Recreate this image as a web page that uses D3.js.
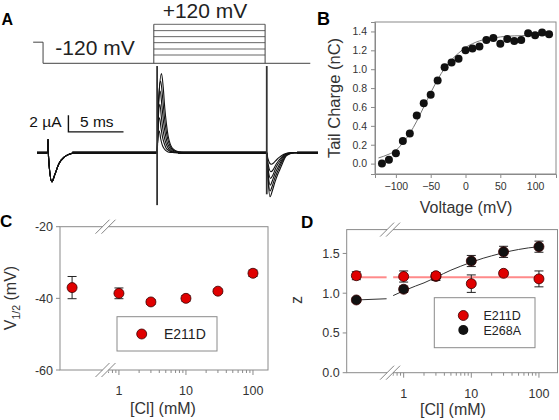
<!DOCTYPE html>
<html><head><meta charset="utf-8">
<script src="https://cdn.jsdelivr.net/npm/d3@7"></script>
<style>body{margin:0;background:#fff}svg{display:block;font-family:"Liberation Sans",Arial,sans-serif}</style>
</head><body><svg id="c" width="559" height="420"></svg>
<script>
// ================= DATA =================
// Panel A: voltage protocol (schematic)
const protoT = [-0.35, 0.55, 10.6, 20.7, 24.8];      // start, step to -120, test on, test off, end (ms)
const protoHoldV = 10, protoPreV = -120;
const protoTestV = [120, 81, 44, 7, -32, -69];
// Panel A: current traces (ms, µA)
const traceEndT = 25.5, onsetT = 10.9, offsetT = 20.85;
const prePulse = [[0,0],[0.95,0],[1.0,1.6],[1.05,-0.6],[1.35,-3.5],[1.6,-2.7],[2.0,-1.3],[2.5,-0.5],[3.0,-0.15],[3.6,0]];
const onTraces = [
  [[0,0],[0.15,6.5],[0.4,9.5],[0.55,7.9],[0.7,5.3],[0.85,3.4],[1.0,2.0],[1.2,1.0],[1.45,0.45],[1.9,0.12],[2.5,0]],
  [[0,0],[0.12,6.0],[0.32,8.6],[0.5,6.6],[0.65,4.4],[0.8,2.8],[0.95,1.7],[1.15,0.85],[1.4,0.35],[1.8,0.1],[2.4,0]],
  [[0,0],[0.1,5.0],[0.28,7.4],[0.45,5.4],[0.6,3.5],[0.75,2.2],[0.9,1.3],[1.1,0.65],[1.35,0.25],[1.7,0.05],[2.3,0]],
  [[0,0],[0.1,4.0],[0.25,5.8],[0.4,4.1],[0.55,2.6],[0.7,1.6],[0.85,0.95],[1.05,0.45],[1.3,0.15],[1.7,0.03],[2.2,0]],
  [[0,0],[0.08,3.0],[0.22,4.2],[0.36,2.9],[0.5,1.8],[0.65,1.1],[0.8,0.6],[1.0,0.3],[1.25,0.1],[1.6,0.02],[2.1,0]],
  [[0,0],[0.07,1.8],[0.2,2.6],[0.32,1.7],[0.45,1.0],[0.6,0.55],[0.75,0.3],[0.95,0.12],[1.2,0.03],[1.5,0.01],[2.0,0]]
];
const offTraces = [
  [[0,0],[0.1,-2.8],[0.3,-5.3],[0.5,-4.6],[0.75,-3.5],[1.0,-2.6],[1.2,-2.0],[1.45,-1.2],[1.7,-0.5],[2.0,-0.2],[2.5,0]],
  [[0,0],[0.1,-2.5],[0.3,-4.6],[0.5,-4.0],[0.75,-3.0],[1.0,-2.2],[1.2,-1.6],[1.45,-0.95],[1.7,-0.4],[2.0,-0.15],[2.5,0]],
  [[0,0],[0.1,-2.1],[0.32,-3.9],[0.5,-3.4],[0.75,-2.5],[1.0,-1.8],[1.2,-1.3],[1.45,-0.75],[1.7,-0.3],[2.0,-0.1],[2.5,0]],
  [[0,0],[0.1,-1.7],[0.35,-3.1],[0.55,-2.7],[0.8,-1.9],[1.0,-1.4],[1.2,-1.0],[1.45,-0.55],[1.7,-0.2],[2.0,-0.08],[2.5,0]],
  [[0,0],[0.1,-1.2],[0.38,-2.3],[0.6,-2.0],[0.85,-1.4],[1.05,-1.0],[1.25,-0.7],[1.5,-0.35],[1.75,-0.15],[2.0,-0.05],[2.5,0]],
  [[0,0],[0.1,-0.7],[0.4,-1.4],[0.65,-1.2],[0.9,-0.85],[1.1,-0.6],[1.3,-0.4],[1.55,-0.2],[1.8,-0.08],[2.1,-0.02],[2.5,0]]
];
const spikes = [[10.9, 10.4, -6.3], [20.85, 10.4, -5.0]];   // time, top, bottom
const baseSegs = [[0,0.95],[3.2,10.85],[12.8,20.8],[23.6,25.5]];
const scaleBarT = 2.85, scaleBarDT = 5, scaleBarI = 2.5, scaleBarDI = 2;

// Panel B
const bVolt = [-120,-110,-100,-90,-80,-70,-60,-50,-40,-30,-20,-10,0,10,20,30,40,50,60,70,80,90,100,110,120];
const bCharge = [0.00,0.04,0.11,0.24,0.32,0.51,0.64,0.73,0.88,1.02,1.07,1.11,1.20,1.22,1.24,1.31,1.33,1.27,1.32,1.30,1.31,1.38,1.36,1.39,1.37];
const bFitV = [-125,-110,-100,-90,-80,-70,-60,-50,-40,-30,-20,-10,0,10,20,40,60,80,100,120];
const bFitQ = [0.06,0.10,0.14,0.22,0.32,0.45,0.60,0.75,0.89,1.01,1.10,1.17,1.23,1.27,1.30,1.33,1.35,1.355,1.36,1.36];
const bXTicks = [-100,-50,0,50,100];
const bYTicks = [0,0.2,0.4,0.6,0.8,1.0,1.2,1.4];

// Panels C & D
const clConc = [0.2, 1, 3, 10, 30, 100];
const cV12 = [-37.0, -38.6, -41.0, -40.0, -38.0, -33.0];
const cV12Err = [3.1, 1.5, 0.7, 0.8, 0.6, 0.9];
const dZ211 = [1.22, 1.21, 1.22, 1.12, 1.25, 1.18];
const dZ211Err = [0.05, 0.07, 0.03, 0.11, 0.03, 0.10];
const dZ268 = [0.915, 1.05, 1.21, 1.405, 1.52, 1.585];
const dZ268Err = [0.03, 0.04, 0.05, 0.07, 0.07, 0.07];
const d211LineZ = 1.2;
const d211LineC = [[0.2, 0.56], [0.70, 115]];
const d268FitLeftC = [0.2, 0.56], d268FitLeftZ = [0.915, 0.93];
const d268FitC = [0.70, 1, 1.5, 2, 3, 5, 7, 10, 15, 20, 30, 50, 70, 100];
const d268FitZ = [0.97, 1.03, 1.09, 1.13, 1.20, 1.29, 1.34, 1.39, 1.44, 1.47, 1.51, 1.55, 1.57, 1.585];
const clTicks = [1, 10, 100];
const clMinorTicks = [0.7,0.8,0.9,2,3,4,5,6,7,8,9,20,30,40,50,60,70,80,90];
const breakConc = 0.63;
const cYTicks = [-20, -40, -60];
const dYTicks = [0, 0.5, 1.0, 1.5];

// ================= DRAW =================
const svg = d3.select("#c");
const FR = "#8a8a8a", TXT = "#333";

// ---------- Panel A ----------
const xT = d3.scaleLinear().domain([0, 25.5]).range([37, 318]);
const yI = d3.scaleLinear().domain([-6.5, 10.5]).range([206.8, 65.2]);
const yP = d3.scaleLinear().domain([-120, 120]).range([63.3, 24.3]);
const gA = svg.append("g");
const pl = d3.line().x(d => xT(d[0])).y(d => yP(d[1]));
gA.append("path").attr("fill","none").attr("stroke","#444").attr("stroke-width",1)
  .attr("d", pl([[protoT[0],protoHoldV],[protoT[1],protoHoldV],[protoT[1],protoPreV],[protoT[4],protoPreV]]));
gA.selectAll("line.pt").data(protoTestV).join("line")
  .attr("x1", xT(protoT[2])).attr("x2", xT(protoT[3]))
  .attr("y1", d => yP(d)).attr("y2", d => yP(d)).attr("stroke","#555").attr("stroke-width",0.9);
[protoT[2], protoT[3]].forEach(t => gA.append("line").attr("x1",xT(t)).attr("x2",xT(t))
  .attr("y1",yP(protoPreV)).attr("y2",yP(d3.max(protoTestV))).attr("stroke","#444").attr("stroke-width",1));
gA.append("text").attr("x",205).attr("y",18).attr("text-anchor","middle").attr("font-size",21).attr("fill","#222").text("+120 mV");
gA.append("text").attr("x",95).attr("y",55).attr("text-anchor","middle").attr("font-size",21).attr("fill","#222").text("-120 mV");
gA.append("text").attr("x",1.5).attr("y",25).attr("font-size",16).attr("font-weight","bold").text("A");

// traces
const tl = d3.line().x(d => xT(d[0])).y(d => yI(d[1])).curve(d3.curveMonotoneX);
onTraces.forEach((on, k) => {
  const pts = prePulse.concat([[onsetT - 0.05, 0]], on.map(p => [onsetT + p[0], p[1]]),
    [[offsetT - 0.05, 0]], offTraces[k].map(p => [offsetT + p[0], p[1]]), [[traceEndT, 0]]);
  gA.append("path").attr("fill","none").attr("stroke","#111").attr("stroke-width",1.1).attr("d", tl(pts));
});
baseSegs.forEach(s => gA.append("line").attr("x1",xT(s[0])).attr("x2",xT(s[1]))
  .attr("y1",yI(0)).attr("y2",yI(0)).attr("stroke","#111").attr("stroke-width",2.6));
spikes.forEach(s => gA.append("line").attr("x1",xT(s[0])).attr("x2",xT(s[0]))
  .attr("y1",yI(s[1])).attr("y2",yI(s[2])).attr("stroke","#333").attr("stroke-width",1.8));
// scale bar
gA.append("path").attr("fill","none").attr("stroke","#111").attr("stroke-width",1.4)
  .attr("d", `M${xT(scaleBarT)},${yI(scaleBarI+scaleBarDI)}V${yI(scaleBarI)}H${xT(scaleBarT+scaleBarDT)}`);
gA.append("text").attr("x",61.5).attr("y",126.5).attr("text-anchor","end").attr("font-size",15.5).attr("fill","#111").text("2 µA");
gA.append("text").attr("x",80).attr("y",126.5).attr("font-size",15.5).attr("fill","#111").text("5 ms");

// ---------- Panel B ----------
const xB = d3.scaleLinear().domain([-130, 130]).range([375, 556]);
const yB = d3.scaleLinear().domain([-0.11, 1.5]).range([174, 22]);
const gB = svg.append("g");
gB.append("rect").attr("x",375).attr("y",22).attr("width",181).attr("height",152).attr("fill","none").attr("stroke",FR);
gB.append("g").attr("transform","translate(0,174)")
  .call(d3.axisBottom(xB).tickValues(bXTicks).tickSize(4).tickPadding(5))
  .call(g => { g.select(".domain").attr("stroke",FR); g.selectAll("line").attr("stroke",FR);
    g.selectAll("text").attr("font-size",10.5).attr("fill",TXT).attr("font-family","Liberation Sans, Arial"); });
gB.append("g").attr("transform","translate(375,0)")
  .call(d3.axisLeft(yB).tickValues(bYTicks).tickFormat(d3.format(".1f")).tickSize(4).tickPadding(4))
  .call(g => { g.select(".domain").attr("stroke",FR); g.selectAll("line").attr("stroke",FR);
    g.selectAll("text").attr("font-size",10.5).attr("fill",TXT).attr("font-family","Liberation Sans, Arial"); });
gB.append("path").attr("fill","none").attr("stroke","#777").attr("stroke-width",1)
  .attr("d", d3.line().x((d,i)=>xB(d)).y((d,i)=>yB(bFitQ[i])).curve(d3.curveMonotoneX)(bFitV));
gB.selectAll("circle").data(bVolt).join("circle")
  .attr("cx", d => xB(d)).attr("cy", (d,i) => yB(bCharge[i])).attr("r",4).attr("fill","#111");
gB.append("text").attr("x",317).attr("y",25).attr("font-size",18).attr("font-weight","bold").text("B");
gB.append("text").attr("transform","translate(340,98) rotate(-90)").attr("text-anchor","middle")
  .attr("font-size",16.5).attr("fill","#333").text("Tail Charge (nC)");
gB.append("text").attr("x",466).attr("y",213).attr("text-anchor","middle").attr("font-size",16).attr("fill","#333").text("Voltage (mV)");

// ---------- helpers for C / D ----------
function logPanel(g, x, y, x0, x1, y0, y1, yTicks, yFmt) {
  g.append("rect").attr("x",x0).attr("y",y1).attr("width",x1-x0).attr("height",y0-y1).attr("fill","none").attr("stroke",FR);
  g.selectAll("line.yt").data(yTicks).join("line").attr("x1",x0-4).attr("x2",x0)
    .attr("y1",d=>y(d)).attr("y2",d=>y(d)).attr("stroke",FR);
  g.selectAll("text.yl").data(yTicks).join("text").attr("x",x0-7).attr("y",d=>y(d)+4.5)
    .attr("text-anchor","end").attr("font-size",12.5).attr("fill",TXT).text(yFmt);
  g.selectAll("line.xt").data(clTicks).join("line").attr("x1",d=>x(d)).attr("x2",d=>x(d))
    .attr("y1",y0).attr("y2",y0+5).attr("stroke",FR);
  g.selectAll("line.xm").data(clMinorTicks).join("line").attr("x1",d=>x(d)).attr("x2",d=>x(d))
    .attr("y1",y0).attr("y2",y0+3).attr("stroke",FR);
  g.selectAll("text.xl").data(clTicks).join("text").attr("x",d=>x(d)).attr("y",y0+25)
    .attr("text-anchor","middle").attr("font-size",12.5).attr("fill",TXT).text(d=>d);
  const bx = x(breakConc);
  [y0, y1].forEach(yy => {
    g.append("rect").attr("x",bx-3).attr("y",yy-2).attr("width",6).attr("height",4).attr("fill","#fff");
    [-3, 3].forEach(o => g.append("line").attr("x1",bx+o-7).attr("y1",yy+7).attr("x2",bx+o+7).attr("y2",yy-7)
      .attr("stroke","#777").attr("stroke-width",0.9));
  });
}
function errBars(g, x, y, vals, errs) {
  clConc.forEach((c,i) => {
    const cx = x(c);
    g.append("path").attr("fill","none").attr("stroke","#222").attr("stroke-width",1)
      .attr("d", `M${cx},${y(vals[i]+errs[i])}V${y(vals[i]-errs[i])}M${cx-4.5},${y(vals[i]+errs[i])}H${cx+4.5}M${cx-4.5},${y(vals[i]-errs[i])}H${cx+4.5}`);
  });
}
function dots(g, x, y, vals, fill) {
  clConc.forEach((c,i) => g.append("circle").attr("cx",x(c)).attr("cy",y(vals[i])).attr("r",5)
    .attr("fill",fill).attr("stroke","#3a0000").attr("stroke-width",0.8));
}
const RED = "#e00000";

// ---------- Panel C ----------
const xC = d3.scaleLog().domain([0.132, 167.6]).range([60, 268]);
const yC = d3.scaleLinear().domain([-60, -20]).range([370, 226.7]);
const gC = svg.append("g");
logPanel(gC, xC, yC, 60, 268, 370, 226.7, cYTicks, d => d);
errBars(gC, xC, yC, cV12, cV12Err);
dots(gC, xC, yC, cV12, RED);
gC.append("rect").attr("x",117).attr("y",316.7).attr("width",100).attr("height",34.3).attr("fill","#fff").attr("stroke",FR);
gC.append("circle").attr("cx",141.7).attr("cy",334).attr("r",5).attr("fill",RED).attr("stroke","#3a0000").attr("stroke-width",0.8);
gC.append("text").attr("x",164).attr("y",339).attr("font-size",14).attr("fill","#222").text("E211D");
gC.append("text").attr("x",0).attr("y",227).attr("font-size",17).attr("font-weight","bold").text("C");
const vt = gC.append("text").attr("transform","translate(16,298) rotate(-90)").attr("text-anchor","middle")
  .attr("font-size",16).attr("fill","#333");
vt.append("tspan").text("V");
vt.append("tspan").attr("font-size",10.5).attr("dy",4).text("1/2");
vt.append("tspan").attr("dy",-4).text(" (mV)");
gC.append("text").attr("x",163).attr("y",414).attr("text-anchor","middle").attr("font-size",16).attr("fill","#333").text("[Cl] (mM)");

// ---------- Panel D ----------
const xD = d3.scaleLog().domain([0.144, 188]).range([346.7, 557.5]);
const yD = d3.scaleLinear().domain([0, 1.8]).range([372.7, 229.6]);
const gD = svg.append("g");
logPanel(gD, xD, yD, 346.7, 557.5, 372.7, 229.6, dYTicks, d3.format(".1f"));
d211LineC.forEach(s => gD.append("line").attr("x1",xD(s[0])).attr("x2",xD(s[1]))
  .attr("y1",yD(d211LineZ)).attr("y2",yD(d211LineZ)).attr("stroke","#ff8a8a").attr("stroke-width",2));
const fl = d3.line().x(d=>xD(d[0])).y(d=>yD(d[1])).curve(d3.curveMonotoneX);
gD.append("path").attr("fill","none").attr("stroke","#333").attr("stroke-width",1)
  .attr("d", fl(d268FitLeftC.map((c,i)=>[c, d268FitLeftZ[i]])));
gD.append("path").attr("fill","none").attr("stroke","#333").attr("stroke-width",1)
  .attr("d", fl(d268FitC.map((c,i)=>[c, d268FitZ[i]])));
errBars(gD, xD, yD, dZ268, dZ268Err);
dots(gD, xD, yD, dZ268, "#111");
errBars(gD, xD, yD, dZ211, dZ211Err);
dots(gD, xD, yD, dZ211, RED);
gD.append("rect").attr("x",434.3).attr("y",297.7).attr("width",100.7).attr("height",50).attr("fill","#fff").attr("stroke",FR);
gD.append("circle").attr("cx",463.3).attr("cy",315.5).attr("r",5).attr("fill",RED).attr("stroke","#3a0000").attr("stroke-width",0.8);
gD.append("circle").attr("cx",463.3).attr("cy",330).attr("r",5).attr("fill","#111");
gD.append("text").attr("x",483.5).attr("y",320).attr("font-size",12.5).attr("fill","#222").text("E211D");
gD.append("text").attr("x",483.5).attr("y",334.5).attr("font-size",12.5).attr("fill","#222").text("E268A");
gD.append("text").attr("x",301).attr("y",228).attr("font-size",17).attr("font-weight","bold").text("D");
gD.append("text").attr("transform","translate(302,300) rotate(-90)").attr("text-anchor","middle")
  .attr("font-size",16).attr("fill","#333").text("z");
gD.append("text").attr("x",453).attr("y",415).attr("text-anchor","middle").attr("font-size",16).attr("fill","#333").text("[Cl] (mM)");
</script></body></html>
